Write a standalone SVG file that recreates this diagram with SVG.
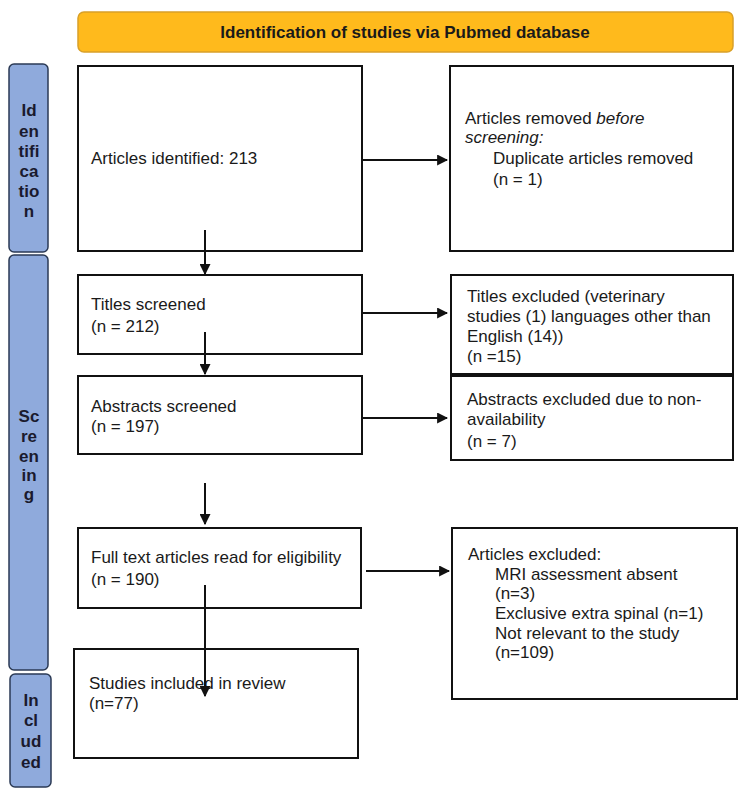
<svg xmlns="http://www.w3.org/2000/svg" width="746" height="800" viewBox="0 0 746 800">
<defs>
<style>
.box{fill:#fff;stroke:#111;stroke-width:2}
.side{fill:#8FAADC;stroke:#2B3A55;stroke-width:1.5}
.t{font-family:"Liberation Sans",Arial,sans-serif;font-size:17px;fill:#1a1a1a}
.sb{font-family:"Liberation Sans",Arial,sans-serif;font-size:17px;font-weight:bold;fill:#1a1a2e;text-anchor:middle}
.ban{font-family:"Liberation Sans",Arial,sans-serif;font-size:17px;font-weight:bold;fill:#1a1a1a;text-anchor:middle}
.c{stroke:#111;stroke-width:2;fill:none;marker-end:url(#ah)}
</style>
<marker id="ah" viewBox="0 0 10 10" refX="9" refY="5" markerWidth="5.5" markerHeight="5.5" orient="auto" markerUnits="strokeWidth">
<path d="M0,0 L10,5 L0,10 z" fill="#111"/>
</marker>
</defs>
<rect width="746" height="800" fill="#fff"/>

<g id="banner">
<rect x="78" y="12" width="655" height="40" rx="6" fill="#FFBA1C" stroke="#D9A028" stroke-width="1.5"/>
<text class="ban" x="405" y="38">Identification of studies via Pubmed database</text>
</g>

<g id="side-identification">
<rect class="side" x="9" y="64" width="39" height="188" rx="5"/>
<text class="sb" x="29" y="116">Id</text>
<text class="sb" x="29" y="137">en</text>
<text class="sb" x="29" y="157">tifi</text>
<text class="sb" x="29" y="177">ca</text>
<text class="sb" x="29" y="197">tio</text>
<text class="sb" x="29" y="217">n</text>
</g>

<g id="side-screening">
<rect class="side" x="9" y="255" width="39" height="415" rx="5"/>
<text class="sb" x="29" y="422">Sc</text>
<text class="sb" x="29" y="442">re</text>
<text class="sb" x="29" y="462">en</text>
<text class="sb" x="29" y="481">in</text>
<text class="sb" x="29" y="500">g</text>
</g>

<g id="side-included">
<rect class="side" x="10" y="674" width="41" height="113" rx="5"/>
<text class="sb" x="31" y="706">In</text>
<text class="sb" x="31" y="726">cl</text>
<text class="sb" x="31" y="747">ud</text>
<text class="sb" x="31" y="768">ed</text>
</g>

<g id="identified">
<rect class="box" x="78" y="66" width="284" height="185"/>
<text class="t" x="91" y="164">Articles identified: 213</text>
</g>

<g id="removed">
<rect class="box" x="450" y="66" width="283" height="185"/>
<text class="t" x="465" y="124">Articles removed <tspan font-style="italic">before</tspan></text>
<text class="t" x="465" y="143" font-style="italic">screening:</text>
<text class="t" x="493" y="164">Duplicate articles removed</text>
<text class="t" x="493" y="185">(n = 1)</text>
</g>

<g id="titles">
<rect class="box" x="78" y="275" width="284" height="79"/>
<text class="t" x="91" y="310">Titles screened</text>
<text class="t" x="91" y="332">(n = 212)</text>
</g>

<g id="titles-excluded">
<rect class="box" x="451" y="275" width="282" height="99"/>
<text class="t" x="467" y="302">Titles excluded (veterinary</text>
<text class="t" x="467" y="322">studies (1) languages other than</text>
<text class="t" x="467" y="342">English (14))</text>
<text class="t" x="467" y="362">(n =15)</text>
</g>

<g id="abstracts">
<rect class="box" x="78" y="376" width="284" height="78"/>
<text class="t" x="91" y="412">Abstracts screened</text>
<text class="t" x="91" y="432">(n = 197)</text>
</g>

<g id="abstracts-excluded">
<rect class="box" x="451" y="376" width="282" height="84"/>
<text class="t" x="467" y="405">Abstracts excluded due to non-</text>
<text class="t" x="467" y="425">availability</text>
<text class="t" x="467" y="447">(n = 7)</text>
</g>

<g id="fulltext">
<rect class="box" x="78" y="528" width="283" height="80"/>
<text class="t" x="91" y="563">Full text articles read for eligibility</text>
<text class="t" x="91" y="585">(n = 190)</text>
</g>

<g id="articles-excluded">
<rect class="box" x="452" y="528" width="285" height="171"/>
<text class="t" x="468" y="560">Articles excluded:</text>
<text class="t" x="495" y="580">MRI assessment absent</text>
<text class="t" x="495" y="599">(n=3)</text>
<text class="t" x="495" y="619">Exclusive extra spinal (n=1)</text>
<text class="t" x="495" y="639">Not relevant to the study</text>
<text class="t" x="495" y="658">(n=109)</text>
</g>

<g id="included">
<rect class="box" x="74" y="649" width="284" height="109"/>
<text class="t" x="89" y="689">Studies included in review</text>
<text class="t" x="89" y="709">(n=77)</text>
</g>

<g id="connectors">
<line class="c" x1="362" y1="160" x2="447" y2="160"/>
<line class="c" x1="205" y1="230" x2="205" y2="274"/>
<line class="c" x1="362" y1="313" x2="447" y2="313"/>
<line class="c" x1="205" y1="332" x2="205" y2="374"/>
<line class="c" x1="362" y1="418" x2="447" y2="418"/>
<line class="c" x1="205" y1="483" x2="205" y2="524"/>
<line class="c" x1="366" y1="571" x2="449" y2="571"/>
<line class="c" x1="205" y1="585" x2="205" y2="696"/>
</g>
</svg>
